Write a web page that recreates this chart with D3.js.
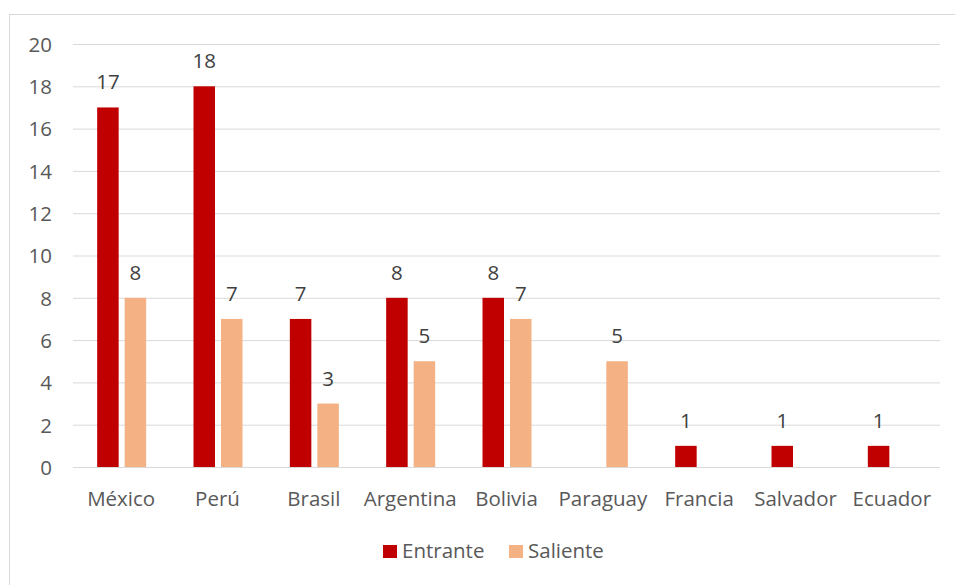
<!DOCTYPE html>
<html><head><meta charset="utf-8">
<script src="https://cdn.jsdelivr.net/npm/d3@7"></script>
<style>body{margin:0;background:#fff}svg{display:block}</style>
</head><body>
<script>
const categories = ["México","Perú","Brasil","Argentina","Bolivia","Paraguay","Francia","Salvador","Ecuador"];
const entrante = [17,18,7,8,8,0,1,1,1];
const saliente = [8,7,3,5,7,5,0,0,0];
const seriesNames = ["Entrante","Saliente"];
const seriesColors = ["#c00000","#f4b183"];
const yTicks = [0,2,4,6,8,10,12,14,16,18,20];

const W=955,H=585;
const font = "'Open Sans', Lato, sans-serif";
const fs = 20.5;
const svg = d3.select("body").append("svg").attr("width",W).attr("height",H);
svg.append("rect").attr("x",9.5).attr("y",14.5).attr("width",W).attr("height",H).attr("fill","#fff").attr("stroke","#d9d9d9");

const pLeft=73,pRight=940,pTop=44,pBottom=467;
const x = d3.scaleBand().domain(categories).range([pLeft,pRight]);
const y = d3.scaleLinear().domain([0,20]).range([pBottom,pTop]);

svg.append("g").selectAll("line").data(yTicks).join("line")
  .attr("x1",pLeft).attr("x2",pRight).attr("y1",d=>y(d)+0.5).attr("y2",d=>y(d)+0.5)
  .attr("stroke","#d9d9d9").attr("stroke-width",1);

const yAxis = d3.axisLeft(y).tickValues(yTicks).tickSize(0).tickPadding(0);
const ga = svg.append("g").attr("transform",`translate(${pLeft-21},0)`).call(yAxis);
ga.select(".domain").remove();
ga.selectAll("text").attr("font-family",font).attr("font-size",fs).attr("fill","#595959").attr("dy","0.36em");

const xAxis = d3.axisBottom(x).tickSize(0).tickPadding(0);
const gx = svg.append("g").attr("transform",`translate(0,0)`).call(xAxis);
gx.select(".domain").remove();
gx.selectAll("text").attr("font-family",font).attr("font-size",fs).attr("fill","#595959").attr("dy",null).attr("y",506);

const inner = d3.scaleBand().domain(seriesNames).range([-24,25]).paddingInner(0.218).paddingOuter(0);
const data = [entrante, saliente];
seriesNames.forEach((s,si)=>{
  const g = svg.append("g");
  const rows = categories.map((c,i)=>({c,v:data[si][i]}));
  g.selectAll("rect").data(rows.filter(d=>d.v>0)).join("rect")
    .attr("x",d=>x(d.c)+x.bandwidth()/2+inner(s))
    .attr("width",inner.bandwidth())
    .attr("y",d=>y(d.v)).attr("height",d=>y(0)-y(d.v))
    .attr("fill",seriesColors[si]);
  g.selectAll("text").data(rows.filter(d=>d.v>0)).join("text")
    .attr("x",d=>x(d.c)+x.bandwidth()/2+inner(s)+inner.bandwidth()/2)
    .attr("y",d=>y(d.v)-18)
    .attr("text-anchor","middle").attr("font-family",font).attr("font-size",fs).attr("fill","#404040")
    .text(d=>d.v);
});

const leg = svg.append("g");
const legX = [383,509];
seriesNames.forEach((s,i)=>{
  leg.append("rect").attr("x",legX[i]).attr("y",545).attr("width",14).attr("height",13).attr("fill",seriesColors[i]);
  leg.append("text").attr("x",legX[i]+19).attr("y",558).attr("font-family",font).attr("font-size",fs).attr("fill","#595959").text(s);
});
</script>
</body></html>
